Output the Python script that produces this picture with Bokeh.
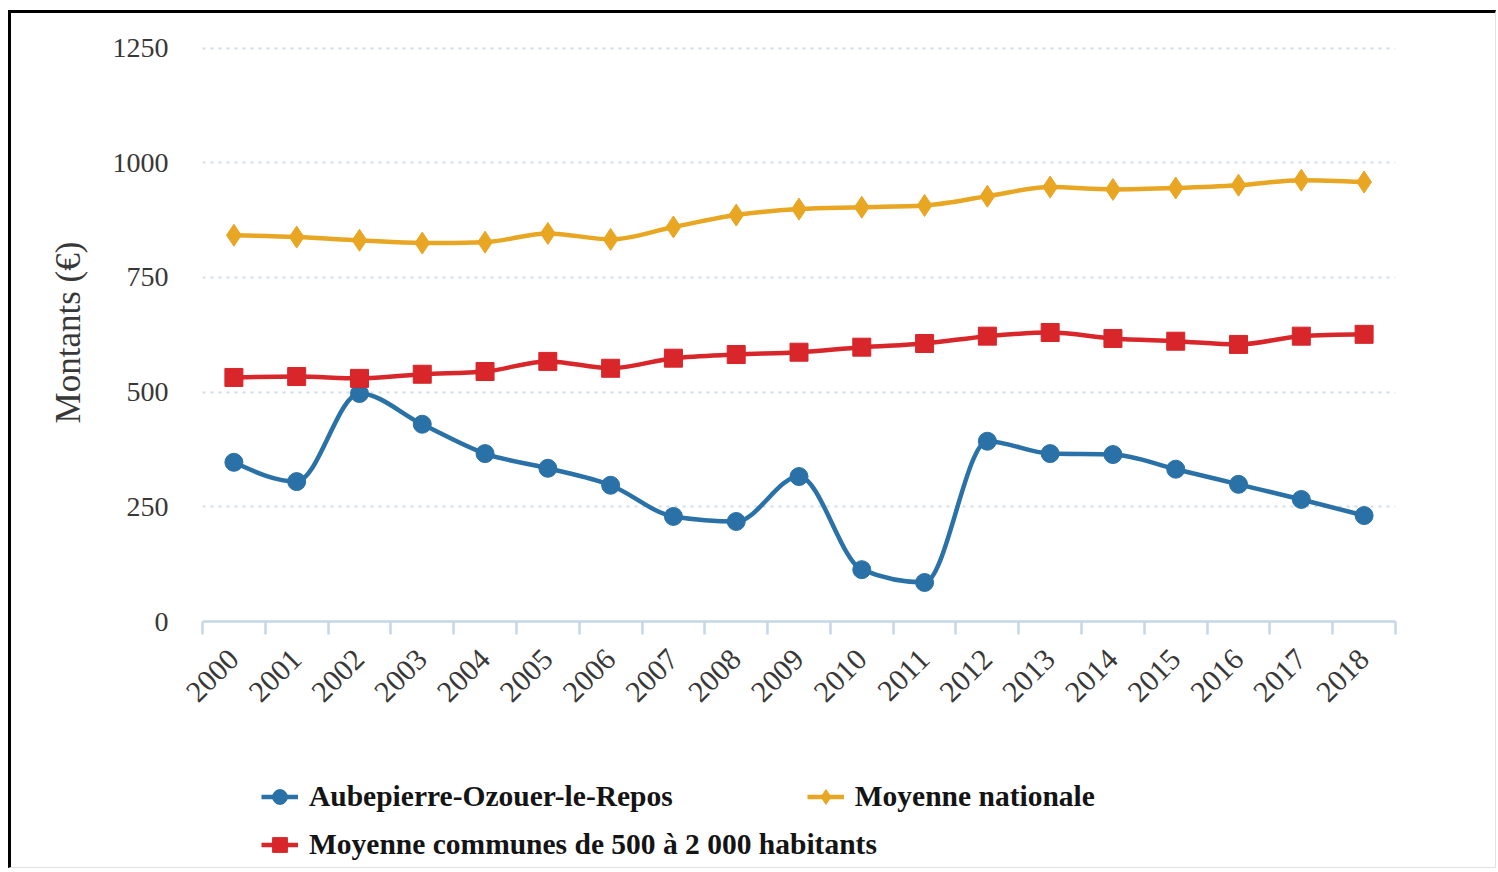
import math
from bokeh.plotting import figure
from bokeh.layouts import column
from bokeh.models import FixedTicker, Legend, LegendItem
from bokeh.embed import file_html
from bokeh.resources import INLINE

# ---- data ----
years = [str(y) for y in range(2000, 2019)]
aubepierre = [347, 305, 497, 430, 366, 334, 297, 229, 218, 316, 113, 85, 393, 366, 364, 332, 299, 266, 231]
communes = [532, 534, 530, 539, 545, 567, 552, 574, 582, 587, 598, 606, 622, 630, 617, 611, 604, 622, 626]
nationale = [842, 838, 831, 825, 827, 846, 833, 860, 886, 899, 903, 907, 927, 947, 942, 945, 951, 962, 958]
y_ticks = [0, 250, 500, 750, 1000, 1250]

labels = ["Aubepierre-Ozouer-le-Repos", "Moyenne nationale",
          "Moyenne communes de 500 à 2 000 habitants"]

BLUE = "#2a71a7"
RED = "#d8262b"
ORANGE = "#e8a622"
AXIS = "#c6d6e9"
FONT = "Liberation Serif"
W = 1484

xs = list(range(len(years)))


def _sign(v):
    return (v > 0) - (v < 0)


def monotone_segments(x, y):
    """Bezier control points of a monotone cubic curve through the points."""
    n = len(x)
    s = [(y[i + 1] - y[i]) / (x[i + 1] - x[i]) for i in range(n - 1)]
    m = [0.0] * n
    for i in range(1, n - 1):
        p_ = (s[i - 1] + s[i]) / 2
        m[i] = (_sign(s[i - 1]) + _sign(s[i])) * min(abs(s[i - 1]), abs(s[i]), 0.5 * abs(p_))
    m[0] = (3 * s[0] - m[1]) / 2
    m[-1] = (3 * s[-1] - m[-2]) / 2
    out = dict(x0=[], y0=[], x1=[], y1=[], cx0=[], cy0=[], cx1=[], cy1=[])
    for i in range(n - 1):
        h = x[i + 1] - x[i]
        out["x0"].append(x[i]); out["y0"].append(y[i])
        out["x1"].append(x[i + 1]); out["y1"].append(y[i + 1])
        out["cx0"].append(x[i] + h / 3); out["cy0"].append(y[i] + m[i] * h / 3)
        out["cx1"].append(x[i + 1] - h / 3); out["cy1"].append(y[i + 1] - m[i + 1] * h / 3)
    return out


p = figure(width=W, height=720, x_range=(-0.5, len(years) - 0.5), y_range=(0, 1260),
           output_backend="svg", toolbar_location=None,
           min_border_left=191, min_border_right=100, min_border_top=30, min_border_bottom=112)
p.outline_line_color = None
p.background_fill_color = "white"
p.border_fill_color = "white"

p.xgrid.visible = False
p.ygrid.ticker = FixedTicker(ticks=y_ticks)
p.ygrid.grid_line_color = "#d3ddea"
p.ygrid.grid_line_dash = "3 5"
p.ygrid.grid_line_width = 2

# y axis
ya = p.yaxis[0]
ya.ticker = FixedTicker(ticks=y_ticks)
ya.axis_line_color = None
ya.major_tick_line_color = None
ya.minor_tick_line_color = None
ya.major_label_standoff = 28
ya.major_label_text_font = FONT
ya.major_label_text_font_size = "28px"
ya.major_label_text_color = "#383838"
ya.axis_label = "Montants (€)"
ya.axis_label_text_font = FONT
ya.axis_label_text_font_style = "normal"
ya.axis_label_text_font_size = "35px"
ya.axis_label_text_color = "#383838"
ya.axis_label_standoff = 22

# x axis
xa = p.xaxis[0]
xa.ticker = FixedTicker(ticks=xs, minor_ticks=[i - 0.5 for i in range(len(years) + 1)])
xa.major_label_overrides = {i: years[i] for i in xs}
xa.major_label_orientation = math.pi / 4
xa.major_tick_out = 0
xa.major_tick_in = 0
xa.major_tick_line_color = None
xa.minor_tick_out = 13
xa.minor_tick_in = 0
xa.minor_tick_line_color = AXIS
xa.minor_tick_line_width = 2.5
xa.axis_line_color = AXIS
xa.axis_line_width = 2.5
xa.major_label_standoff = 20
xa.major_label_text_font = FONT
xa.major_label_text_font_size = "30px"
xa.major_label_text_color = "#383838"


def smooth(values, color):
    seg = monotone_segments(xs, values)
    return p.bezier(x0=seg["x0"], y0=seg["y0"], x1=seg["x1"], y1=seg["y1"],
                    cx0=seg["cx0"], cy0=seg["cy0"], cx1=seg["cx1"], cy1=seg["cy1"],
                    line_color=color, line_width=4.5)


smooth(aubepierre, BLUE)
p.scatter(xs, aubepierre, marker="circle", size=18, color=BLUE)
smooth(nationale, ORANGE)
p.scatter(xs, nationale, marker="diamond", size=22, color=ORANGE)
smooth(communes, RED)
p.scatter(xs, communes, marker="square", size=18, color=RED)

# ---- legend strip (own figure below the chart) ----
LH = 134
q = figure(width=W, height=LH, x_range=(0, 1), y_range=(0, 1),
           output_backend="svg", toolbar_location=None,
           x_axis_type=None, y_axis_type=None, min_border=0)
q.outline_line_color = None
q.grid.visible = False
q.background_fill_color = "white"
q.border_fill_color = "white"

nan = float("nan")
markers = {"blue": ("circle", BLUE), "orange": ("diamond", ORANGE), "red": ("square", RED)}
rend = {}
for key, (mk, col) in markers.items():
    ln = q.line([nan], [nan], line_color=col, line_width=4.5)
    sc = q.scatter([nan], [nan], marker=mk, size=18, color=col)
    rend[key] = [ln, sc]

common = dict(border_line_color=None, background_fill_alpha=0, padding=0, margin=0,
              label_text_font=FONT, label_text_font_style="bold", label_text_font_size="29.5px",
              label_text_color="#141414", glyph_width=37, glyph_height=37,
              label_standoff=11, label_height=30)
leg1 = Legend(items=[LegendItem(label=labels[0], renderers=rend["blue"]),
                     LegendItem(label=labels[1], renderers=rend["orange"])],
              orientation="horizontal", location=(59, 52), spacing=134, **common)
leg2 = Legend(items=[LegendItem(label=labels[2], renderers=rend["red"])],
              location=(59, 4), **common)
q.add_layout(leg1, "center")
q.add_layout(leg2, "center")

layout = column(p, q, spacing=0,
                styles={"margin-left": "8px", "margin-top": "10px",
                        "border-left": "3px solid black", "border-top": "3px solid black",
                        "border-right": "1px solid #e2e2e2", "border-bottom": "1px solid #e2e2e2"})

open("out.html", "w").write(file_html(layout, INLINE))
